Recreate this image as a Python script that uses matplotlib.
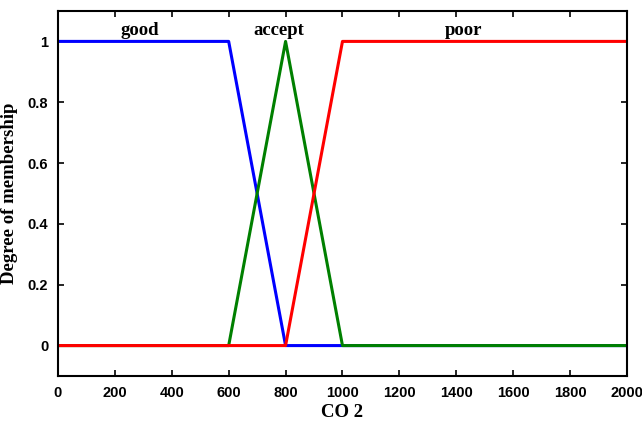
import numpy as np
import matplotlib.pyplot as plt

# Funciones de pertenencia para CO2
x_good = [0, 600, 800, 2000]
y_good = [1, 1, 0, 0]
x_accept = [0, 600, 800, 1000, 2000]
y_accept = [0, 0, 1, 0, 0]
x_poor = [0, 800, 1000, 2000]
y_poor = [0, 0, 1, 1]

etiquetas = ['good', 'accept', 'poor']
pos_etiquetas = [288, 775, 1425]

xticks = np.arange(0, 2001, 200)
yticks = [0, 0.2, 0.4, 0.6, 0.8, 1]
yticklabels = ['0', '0.2', '0.4', '0.6', '0.8', '1']

fig = plt.figure(figsize=(6.42, 4.21), dpi=100)
ax = fig.add_axes([0.0903, 0.1069, 0.8863, 0.867])

ax.plot(x_good, y_good, color='#0000ff', lw=2.2)
ax.plot(x_accept, y_accept, color='#008000', lw=2.2)
ax.plot(x_poor, y_poor, color='#ff0000', lw=2.2)

for texto, xp in zip(etiquetas, pos_etiquetas):
    ax.text(xp, 1.008, texto, ha='center', va='bottom',
            family='Liberation Serif', fontweight='bold', fontsize=13.5)

ax.set_xlim(0, 2000)
ax.set_ylim(-0.1, 1.1)
ax.set_xticks(xticks)
ax.set_yticks(yticks)
ax.set_yticklabels(yticklabels)
ax.tick_params(direction='in', top=True, right=True, length=4, width=1.2,
               labelsize=10.5, pad=7)
for lab in ax.get_xticklabels() + ax.get_yticklabels():
    lab.set_family('Liberation Sans')
    lab.set_fontweight('bold')
for sp in ax.spines.values():
    sp.set_linewidth(1.5)

ax.set_xlabel('CO 2', family='Liberation Serif', fontweight='bold', fontsize=13.5, labelpad=3)
ax.set_ylabel('Degree of membership', family='Liberation Serif', fontweight='bold',
              fontsize=13.5, labelpad=7)

fig.savefig('out.png', dpi=100)
